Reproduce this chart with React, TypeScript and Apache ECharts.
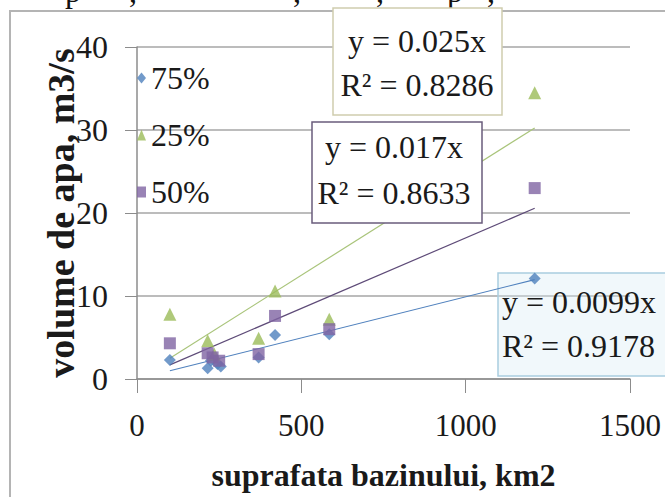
import React, { useEffect, useRef } from "react";
import * as echarts from "echarts";

// ---- data ----
const seriesNames = ["75%", "25%", "50%"];
const x75 = [100, 215, 225, 245, 255, 370, 420, 585, 1210];
const y75 = [2.3, 1.3, 2.2, 1.8, 1.5, 2.6, 5.3, 5.4, 12.1];
const x25 = [100, 215, 235, 370, 420, 585, 1210];
const y25 = [7.8, 4.6, 3.0, 4.9, 10.6, 7.2, 34.5];
const x50 = [100, 215, 230, 250, 370, 420, 585, 1210];
const y50 = [4.3, 3.1, 2.6, 2.2, 3.0, 7.6, 6.0, 23.0];
const slopes = [0.0099, 0.025, 0.017];
const r2Values = [0.9178, 0.8286, 0.8633];
const xTicks = [0, 500, 1000, 1500];
const yTicks = [0, 10, 20, 30, 40];
const xTitle = "suprafata bazinului, km2";
const yTitle = "volume de apa, m3/s";

const colors = ["#4F81BD", "#9BBB59", "#8064A2"];
const lineColors = ["#4F81BD", "#A9C47A", "#5E4B78"];
const symbols = ["diamond", "triangle", "rect"];
const symbolSizes = [12, 13, 12];
const SERIF = "'Liberation Serif', 'Times New Roman', serif";

const xs = [x75, x25, x50];
const ys = [y75, y25, y50];

export default function App() {
  const ref = useRef<HTMLDivElement>(null);
  useEffect(() => {
    if (!ref.current) return;
    const chart = echarts.init(ref.current, null, { renderer: "svg" });

    const scatter = seriesNames.map((name, i) => ({
      name,
      type: "scatter",
      symbol: symbols[i],
      symbolSize: symbolSizes[i],
      itemStyle: { color: colors[i] },
      data: xs[i].map((x, k) => [x, ys[i][k]]),
      z: 3,
    }));
    const trends = seriesNames.map((name, i) => {
      const mn = Math.min(...xs[i]);
      const mx = Math.max(...xs[i]);
      return {
        name: name + " trend",
        type: "line",
        showSymbol: false,
        symbol: "none",
        lineStyle: { color: lineColors[i], width: 1.2 },
        data: [
          [mn, slopes[i] * mn],
          [mx, slopes[i] * mx],
        ],
        z: 2,
      };
    });

    const eq = (i: number) => `y = ${slopes[i]}x`;
    const rr = (i: number) => `R² = ${r2Values[i]}`;
    const txt = (text: string, x: number, y: number, align: string) => ({
      type: "text",
      x,
      y,
      z: 20,
      style: {
        text,
        font: `32px ${SERIF}`,
        fill: "#1a1a1a",
        align,
        verticalAlign: "middle",
      },
    });

    const topGlyph = (text: string, x: number) => ({
      type: "text",
      x,
      y: 7,
      style: {
        text,
        font: `32px ${SERIF}`,
        fill: "#111",
        align: "center",
        verticalAlign: "bottom",
      },
    });

    chart.setOption({
      animation: false,
      backgroundColor: "#ffffff",
      grid: { left: 137, right: 35, top: 47, bottom: 118, containLabel: false },
      legend: {
        orient: "vertical",
        left: 132,
        top: 57,
        itemWidth: 9,
        itemHeight: 11,
        itemGap: 25,
        data: seriesNames.map((n, i) => ({ name: n, icon: symbols[i] })),
        textStyle: { fontFamily: SERIF, fontSize: 32, color: "#1a1a1a", lineHeight: 32 },
        backgroundColor: "transparent",
      },
      xAxis: {
        type: "value",
        min: xTicks[0],
        max: xTicks[xTicks.length - 1],
        interval: 500,
        name: xTitle,
        nameLocation: "middle",
        nameGap: 80,
        nameMoveOverlap: false,
        nameTextStyle: { fontFamily: SERIF, fontSize: 32, fontWeight: "bold", color: "#1a1a1a" },
        axisLine: { show: true, lineStyle: { color: "#8C8C8C", width: 1.5 } },
        axisTick: { show: true, length: 14, lineStyle: { color: "#8C8C8C" } },
        axisLabel: {
          fontFamily: SERIF,
          fontSize: 31,
          color: "#1a1a1a",
          margin: 31,
          formatter: (v: number) => String(v),
        },
        splitLine: { show: false },
      },
      yAxis: {
        type: "value",
        min: yTicks[0],
        max: yTicks[yTicks.length - 1],
        interval: 10,
        name: yTitle,
        nameLocation: "middle",
        nameGap: 57,
        nameMoveOverlap: false,
        nameTextStyle: { fontFamily: SERIF, fontSize: 38, fontWeight: "bold", color: "#1a1a1a" },
        axisLine: { show: true, lineStyle: { color: "#8C8C8C", width: 1.5 } },
        axisTick: { show: true, length: 12, lineStyle: { color: "#8C8C8C" } },
        axisLabel: {
          fontFamily: SERIF,
          fontSize: 32,
          color: "#1a1a1a",
          margin: 29,
          formatter: (v: number) => String(v),
        },
        splitLine: { show: true, lineStyle: { color: "#A6A6A6", width: 1.5 } },
      },
      graphic: [
        {
          type: "rect",
          z: 0,
          shape: { x: 10, y: 11, width: 720, height: 600 },
          style: { fill: "none", stroke: "#B4B4B4", lineWidth: 2 },
        },
        topGlyph("p", 73),
        topGlyph(",", 133),
        topGlyph(",", 297),
        topGlyph(",", 380),
        topGlyph("p", 455),
        topGlyph(",", 491),
        // green (25%) equation box
        {
          type: "rect",
          z: 15,
          shape: { x: 333, y: 8, width: 169, height: 107 },
          style: { fill: "#ffffff", stroke: "#CFCDAE", lineWidth: 1.5 },
        },
        txt(eq(1), 417, 41, "center"),
        txt(rr(1), 417, 85, "center"),
        // purple (50%) equation box
        {
          type: "rect",
          z: 15,
          shape: { x: 312, y: 122, width: 170, height: 101 },
          style: { fill: "#ffffff", stroke: "#6A5C7C", lineWidth: 1.5 },
        },
        txt(eq(2), 394, 147, "center"),
        txt(rr(2), 394, 193, "center"),
        // blue (75%) equation box
        {
          type: "rect",
          z: 1,
          shape: { x: 498, y: 273, width: 200, height: 103 },
          style: { fill: "rgba(215,234,244,0.35)", stroke: "#A9CDE0", lineWidth: 1.5 },
        },
        txt(eq(0), 502, 302, "left"),
        txt(rr(0), 502, 346, "left"),
      ],
      series: [...trends, ...scatter],
    });
    return () => chart.dispose();
  }, []);
  return (
    <div
      ref={ref}
      style={{ position: "fixed", left: 0, top: 0, width: 665, height: 497 }}
    />
  );
}
